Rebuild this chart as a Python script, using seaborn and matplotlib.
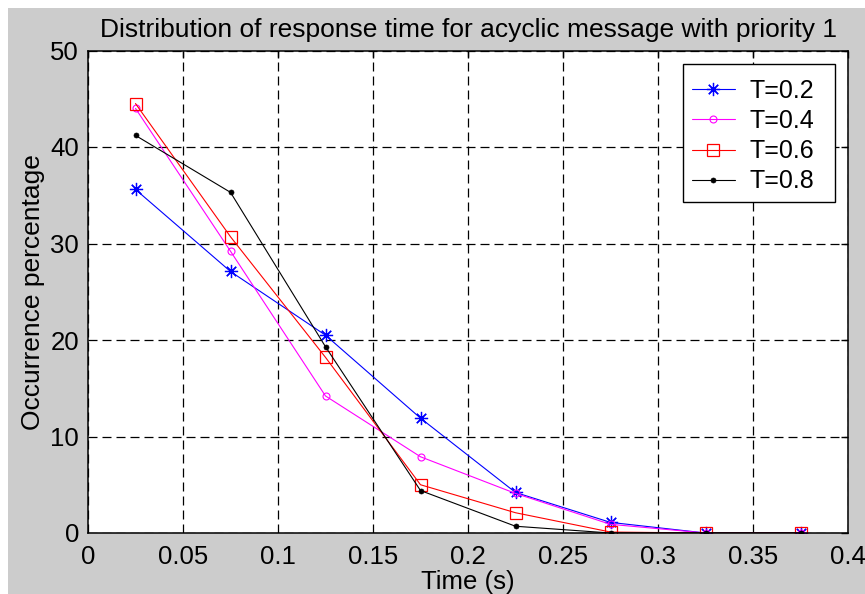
import matplotlib
matplotlib.use("Agg")
import matplotlib.pyplot as plt
from matplotlib.patches import Rectangle
import numpy as np
import pandas as pd
import seaborn as sns

# Response-time bins (s) and occurrence percentages per period T
time_s = [0.025, 0.075, 0.125, 0.175, 0.225, 0.275, 0.325, 0.375]
pct_t02 = [35.6, 27.1, 20.5, 11.9, 4.2, 1.1, 0.0, 0.0]
pct_t04 = [44.0, 29.2, 14.2, 7.9, 4.1, 0.9, 0.0, 0.0]
pct_t06 = [44.5, 30.7, 18.2, 5.0, 2.1, 0.1, 0.0, 0.0]
pct_t08 = [41.2, 35.3, 19.3, 4.4, 0.7, 0.0, 0.0, 0.0]
series_labels = ["T=0.2", "T=0.4", "T=0.6", "T=0.8"]

x_ticks = [0, 0.05, 0.1, 0.15, 0.2, 0.25, 0.3, 0.35, 0.4]
x_tick_labels = ["0", "0.05", "0.1", "0.15", "0.2", "0.25", "0.3", "0.35", "0.4"]
y_ticks = [0, 10, 20, 30, 40, 50]
y_tick_labels = ["0", "10", "20", "30", "40", "50"]

title = "Distribution of response time for acyclic message with priority 1"
x_label = "Time (s)"
y_label = "Occurrence percentage"

df = pd.DataFrame({
    "time": time_s * 4,
    "pct": pct_t02 + pct_t04 + pct_t06 + pct_t08,
    "series": np.repeat(series_labels, len(time_s)),
})

sns.set_style("white")
plt.rcParams["font.family"] = ["Liberation Sans", "DejaVu Sans"]

W, H = 865, 594
fig = plt.figure(figsize=(W / 100, H / 100), dpi=100)
fig.patch.set_facecolor("white")
fig.patches.append(Rectangle((8 / W, 0), 1 - 8 / W, 1 - 8 / H,
                             transform=fig.transFigure, facecolor="#cccccc",
                             edgecolor="none", zorder=-10))
ax = fig.add_axes([88 / W, 1 - 533 / H, 760 / W, 482.5 / H])
ax.set_facecolor("white")

styles = {
    "T=0.2": dict(color="#0000ff", marker=(8, 2, 0), markersize=9.5,
                  markeredgewidth=0.9, markerfacecolor="#0000ff"),
    "T=0.4": dict(color="#ff00ff", marker="o", markersize=5,
                  markeredgewidth=0.8, markerfacecolor="none"),
    "T=0.6": dict(color="#ff0000", marker="s", markersize=8.5,
                  markeredgewidth=0.9, markerfacecolor="none"),
    "T=0.8": dict(color="#000000", marker="o", markersize=3.6,
                  markeredgewidth=0.5, markerfacecolor="#000000"),
}

for name in series_labels:
    sub = df[df["series"] == name]
    st = styles[name]
    sns.lineplot(data=sub, x="time", y="pct", ax=ax, sort=False,
                 errorbar=None, linewidth=0.8, label=name,
                 color=st["color"], marker=st["marker"],
                 markersize=st["markersize"],
                 markeredgewidth=st["markeredgewidth"],
                 markeredgecolor=st["color"],
                 markerfacecolor=st["markerfacecolor"])

ax.set_xlim(0, 0.4)
ax.set_ylim(0, 50)
ax.set_xticks(x_ticks)
ax.set_xticklabels(x_tick_labels)
ax.set_yticks(y_ticks)
ax.set_yticklabels(y_tick_labels)

ax.grid(True, color="black", linestyle=(0, (7.2, 4.0)), linewidth=0.9)
ax.set_axisbelow(True)

for sp in ax.spines.values():
    sp.set_visible(True)
    sp.set_color("black")
    sp.set_linewidth(1.1)

ax.tick_params(direction="in", length=5, width=1.0, color="black",
               top=True, right=True, labelsize=18.5, labelcolor="black")
ax.tick_params(axis="x", pad=9)
ax.tick_params(axis="y", pad=6.5)

ax.set_title(title, fontsize=19, pad=10, color="black")
ax.set_xlabel(x_label, fontsize=18.5, labelpad=0, color="black")
ax.set_ylabel(y_label, fontsize=19, labelpad=4, color="black")

# Legend entries without their own frame; the box is drawn below with
# extra room on the right and top, like a MATLAB legend.
extra_right, extra_top = 12, 6
box_right, box_top = 835, 64
anchor = ((box_right - extra_right - 88) / 760,
          (533 - (box_top + extra_top)) / 482.5)
leg = ax.legend(loc="upper right", bbox_to_anchor=anchor, fontsize=18,
                frameon=False, handlelength=1.7, handletextpad=0.6,
                labelspacing=0.25, borderaxespad=0.0, borderpad=0.35)
for t in leg.get_texts():
    t.set_color("black")
leg.set_zorder(6)

fig.canvas.draw()
bb = leg.get_window_extent(fig.canvas.get_renderer())
inv = ax.transAxes.inverted()
(x0, y0), (x1, y1) = inv.transform([(bb.x0, bb.y0),
                                    (bb.x1 + extra_right, bb.y1 + extra_top)])
ax.add_patch(Rectangle((x0, y0), x1 - x0, y1 - y0, transform=ax.transAxes,
                       facecolor="white", edgecolor="black", linewidth=1.0,
                       clip_on=False, zorder=5))

fig.savefig("out.png", dpi=100, facecolor=fig.get_facecolor())
